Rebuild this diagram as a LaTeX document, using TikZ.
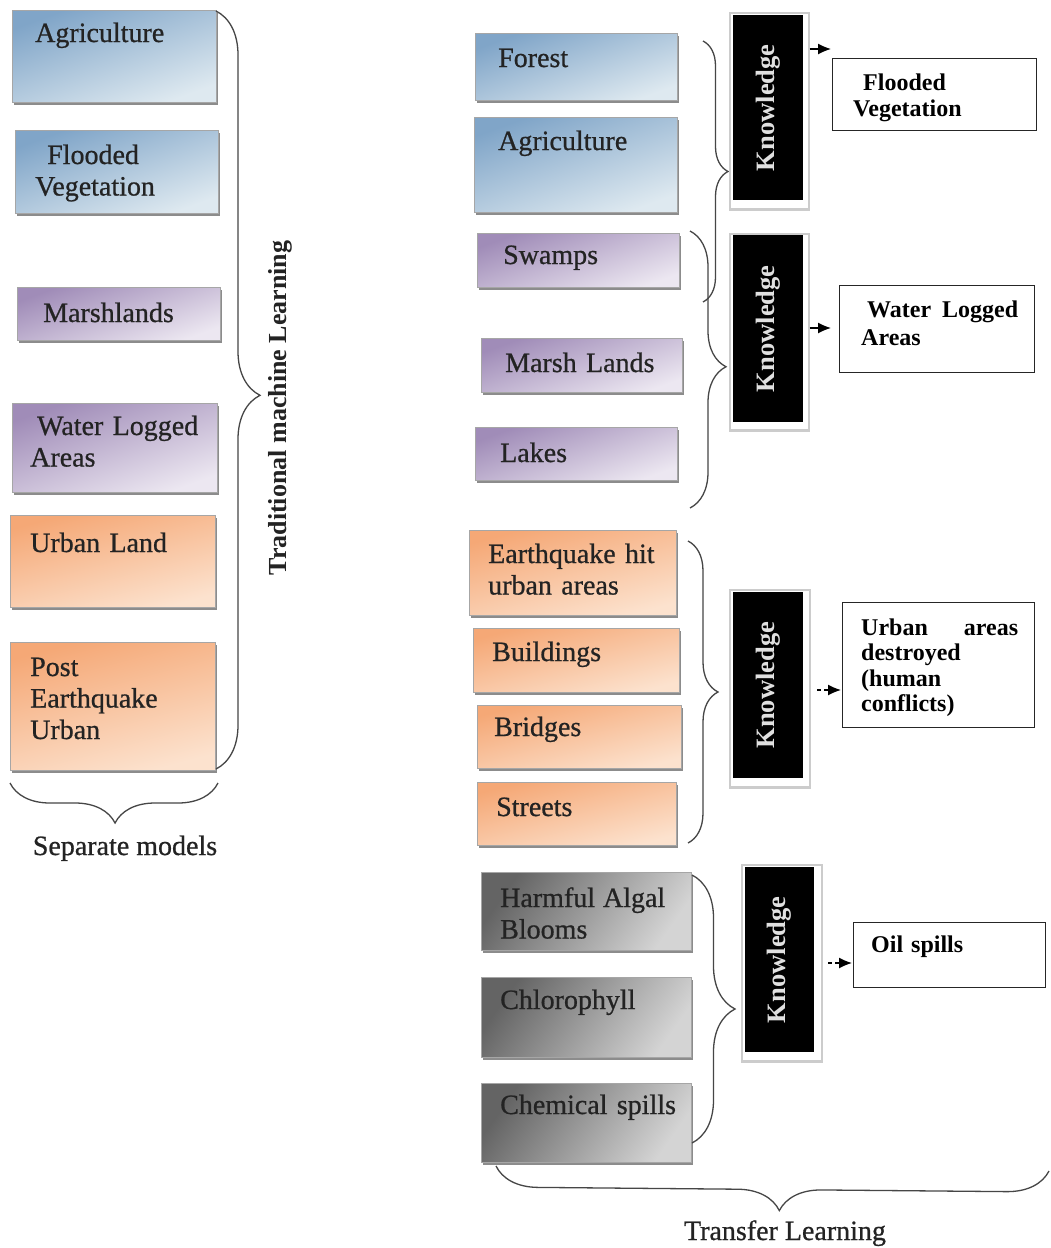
\documentclass[tikz,border=0pt]{standalone}
\usepackage{fontspec}
\setmainfont{Liberation Serif}
\newfontfamily\boxfont[FakeBold=0.7]{Liberation Serif}
\usetikzlibrary{decorations.pathreplacing,shadows,arrows.meta}
\definecolor{bluetop}{RGB}{128,165,200}
\definecolor{bluebot}{RGB}{222,233,240}
\definecolor{purptop}{RGB}{160,140,184}
\definecolor{purpbot}{RGB}{236,231,241}
\definecolor{ortop}{RGB}{245,168,118}
\definecolor{orbot}{RGB}{252,226,206}
\definecolor{graytop}{RGB}{100,100,100}
\definecolor{graybot}{RGB}{212,212,212}
\definecolor{bracecol}{RGB}{70,70,70}
\definecolor{txtcol}{RGB}{35,35,35}
\tikzset{
  cbox/.style={rectangle, draw=black!35, line width=0.8pt, anchor=north west, inner sep=0pt,
     general shadow={fill=black!45, shadow xshift=1.2pt, shadow yshift=-2.2pt}},
  bluebox/.style={cbox, top color=bluetop, bottom color=bluebot, shading angle=20},
  purpbox/.style={cbox, top color=purptop, bottom color=purpbot, shading angle=20},
  orbox/.style={cbox, top color=ortop, bottom color=orbot, shading angle=15},
  graybox/.style={cbox, top color=graytop, bottom color=graybot, shading angle=55},
  btxt/.style={anchor=base west, inner sep=0pt, text width=210pt, align=left, text=txtcol,
     font=\boxfont\fontsize{28}{31.5}\selectfont},
  kfr/.style={rectangle, draw=black!20, line width=1.6pt, fill=white, anchor=north west, inner sep=0pt},
  kbox/.style={rectangle, fill=black, inner sep=0pt, anchor=north west},
  ktxt/.style={rotate=90, text=white!88!black, inner sep=0pt, font=\bfseries\fontsize{26.5}{28}\selectfont},
  obox/.style={rectangle, draw=black!85, line width=1.4pt, fill=white, anchor=north west, inner sep=0pt},
  otxt/.style={anchor=base west, inner sep=0pt, text width=157pt, align=left, text=black,
     font=\bfseries\fontsize{24}{26}\selectfont},
  brc/.style={draw=bracecol, line width=1.3pt, decorate},
  arr/.style={-{Latex[length=13pt,width=11pt]}, line width=1.3pt},
  lbl/.style={anchor=base, inner sep=0pt, text=txtcol, font=\boxfont\fontsize{28}{30}\selectfont},
}
\begin{document}
\begin{tikzpicture}[x=1pt,y=-1pt]
\useasboundingbox (0,0) rectangle (1050,1248);
\fill[white] (0,0) rectangle (1050,1248);

% ---------- left column ----------
\node[bluebox, minimum width=204pt, minimum height=92pt] (la1) at (12,10) {};
\node[bluebox, minimum width=203pt, minimum height=83pt] (la2) at (15,130) {};
\node[purpbox, minimum width=203pt, minimum height=53pt] (la3) at (17,287) {};
\node[purpbox, minimum width=205pt, minimum height=89pt] (la4) at (12,403) {};
\node[orbox, minimum width=205pt, minimum height=92pt] (la5) at (10,515) {};
\node[orbox, minimum width=205pt, minimum height=128pt] (la6) at (10,642) {};

\node[btxt] (la1t) at (35,42) {Agriculture};
\node[btxt] (la2t) at (35,164) {\hspace*{12pt}Flooded\\Vegetation};
\node[btxt] (la3t) at (43,322) {Marshlands};
\node[btxt] (la4t) at (30,435) {\hspace*{7pt}Water Logged\\Areas};
\node[btxt] (la5t) at (30,552) {Urban Land};
\node[btxt] (la6t) at (30,676) {Post\\Earthquake\\Urban};

\coordinate (lbA) at (216,11);
\coordinate (lbB) at (216,769);
\draw[brc, decoration={brace, amplitude=44pt, aspect=0.507}] (lbA) -- (lbB);
\node[rotate=90, inner sep=0pt, text=txtcol, font=\bfseries\fontsize{26}{28}\selectfont] (tml) at (280,408) {Traditional machine Learning};

\coordinate (sbA) at (218,783);
\coordinate (sbB) at (10,783);
\draw[brc, decoration={brace, amplitude=40pt, aspect=0.495}] (sbA) -- (sbB);
\node[lbl] (sep) at (125,855) {Separate models};

% ---------- right column boxes ----------
\node[bluebox, minimum width=202pt, minimum height=67pt] (ra1) at (475,33) {};
\node[bluebox, minimum width=203pt, minimum height=95pt] (ra2) at (474,117) {};
\node[purpbox, minimum width=202pt, minimum height=54pt] (ra3) at (477,233) {};
\node[purpbox, minimum width=201pt, minimum height=54pt] (ra4) at (481,338) {};
\node[purpbox, minimum width=202pt, minimum height=53pt] (ra5) at (475,427) {};
\node[orbox, minimum width=207pt, minimum height=85pt] (ra6) at (469,530) {};
\node[orbox, minimum width=206pt, minimum height=64pt] (ra7) at (473,628) {};
\node[orbox, minimum width=204pt, minimum height=63pt] (ra8) at (477,705) {};
\node[orbox, minimum width=199pt, minimum height=63pt] (ra9) at (477,782) {};
\node[graybox, minimum width=210pt, minimum height=78pt] (ra10) at (481,872) {};
\node[graybox, minimum width=210pt, minimum height=80pt] (ra11) at (481,977) {};
\node[graybox, minimum width=210pt, minimum height=79pt] (ra12) at (481,1083) {};

\node[btxt] (ra1t) at (498,67) {Forest};
\node[btxt] (ra2t) at (498,150) {Agriculture};
\node[btxt] (ra3t) at (503,264) {Swamps};
\node[btxt] (ra4t) at (505,372) {Marsh Lands};
\node[btxt] (ra5t) at (500,462) {Lakes};
\node[btxt] (ra6t) at (488,563) {Earthquake hit\\urban areas};
\node[btxt] (ra7t) at (492,661) {Buildings};
\node[btxt] (ra8t) at (494,736) {Bridges};
\node[btxt] (ra9t) at (496,816) {Streets};
\node[btxt] (ra10t) at (500,907) {Harmful\hspace{8pt}Algal\\Blooms};
\node[btxt] (ra11t) at (500,1009) {Chlorophyll};
\node[btxt] (ra12t) at (500,1114) {Chemical spills};

% ---------- braces on the right ----------
\coordinate (rb1A) at (703,41);  \coordinate (rb1B) at (703,302);
\coordinate (rb2A) at (690,231); \coordinate (rb2B) at (690,508);
\coordinate (rb3A) at (688,541); \coordinate (rb3B) at (688,843);
\coordinate (rb4A) at (692,875); \coordinate (rb4B) at (692,1143);
\draw[brc, decoration={brace, amplitude=25pt, aspect=0.5}] (rb1A) -- (rb1B);
\draw[brc, decoration={brace, amplitude=36pt, aspect=0.49}] (rb2A) -- (rb2B);
\draw[brc, decoration={brace, amplitude=30pt, aspect=0.5}] (rb3A) -- (rb3B);
\draw[brc, decoration={brace, amplitude=43pt, aspect=0.5}] (rb4A) -- (rb4B);

% ---------- knowledge boxes ----------
\node[kfr, minimum width=79pt, minimum height=197pt] (k1f) at (729,12) {};
\node[kfr, minimum width=79pt, minimum height=197pt] (k2f) at (729,233) {};
\node[kfr, minimum width=80pt, minimum height=198pt] (k3f) at (729,589) {};
\node[kfr, minimum width=80pt, minimum height=197pt] (k4f) at (741,864) {};
\foreach \k in {k1f,k2f,k3f,k4f}{
  \draw[black!20, line width=3pt] ([yshift=1pt]\k.south west) -- ([yshift=1pt]\k.south east);
}
\node[kbox, minimum width=70pt, minimum height=185pt] (k1) at (733,15) {};
\node[kbox, minimum width=70pt, minimum height=187pt] (k2) at (733,235) {};
\node[kbox, minimum width=70pt, minimum height=186pt] (k3) at (733,592) {};
\node[kbox, minimum width=69pt, minimum height=185pt] (k4) at (745,867) {};
\node[ktxt] (k1t) at (k1.center) {Knowledge};
\node[ktxt] (k2t) at (k2.center) {Knowledge};
\node[ktxt] (k3t) at (k3.center) {Knowledge};
\node[ktxt] (k4t) at (k4.center) {Knowledge};

% ---------- output boxes ----------
\node[obox, minimum width=204pt, minimum height=72pt] (o1) at (832,58) {};
\node[obox, minimum width=195pt, minimum height=87pt] (o2) at (839,285) {};
\node[obox, minimum width=192pt, minimum height=125pt] (o3) at (842,602) {};
\node[obox, minimum width=192pt, minimum height=65pt] (o4) at (853,922) {};

\node[otxt] (o1t) at (853,90) {\hspace*{10pt}Flooded\\Vegetation};
\node[otxt, font=\bfseries\fontsize{24}{28}\selectfont] (o2t) at (861,317) {\hspace*{6pt}Water\hfill Logged\\Areas};
\node[otxt, font=\bfseries\fontsize{24}{25.5}\selectfont] (o3t) at (861,635) {Urban\hfill areas\\destroyed\\(human\\conflicts)};
\node[otxt] (o4t) at (871,952) {Oil spills};

% ---------- arrows ----------
\coordinate (a1e) at (831,49);
\coordinate (a2e) at (831,328);
\coordinate (a3s) at (817,690);
\coordinate (a3e) at (841,690);
\coordinate (a4s) at (828,963);
\coordinate (a4e) at (852,963);
\draw[arr] (k1f.east |- a1e) -- (a1e);
\draw[arr] (k2f.east |- a2e) -- (a2e);
\draw[arr, dash pattern=on 4pt off 3pt] (a3s) -- (a3e);
\draw[arr, dash pattern=on 4pt off 3pt] (a4s) -- (a4e);

% ---------- transfer learning brace ----------
\coordinate (tbA) at (1049,1171);
\coordinate (tbB) at (496,1166);
\draw[brc, decoration={brace, amplitude=42pt, aspect=0.487}] (tbA) -- (tbB);
\node[lbl] (tl) at (785,1240) {Transfer Learning};
\end{tikzpicture}
\end{document}
